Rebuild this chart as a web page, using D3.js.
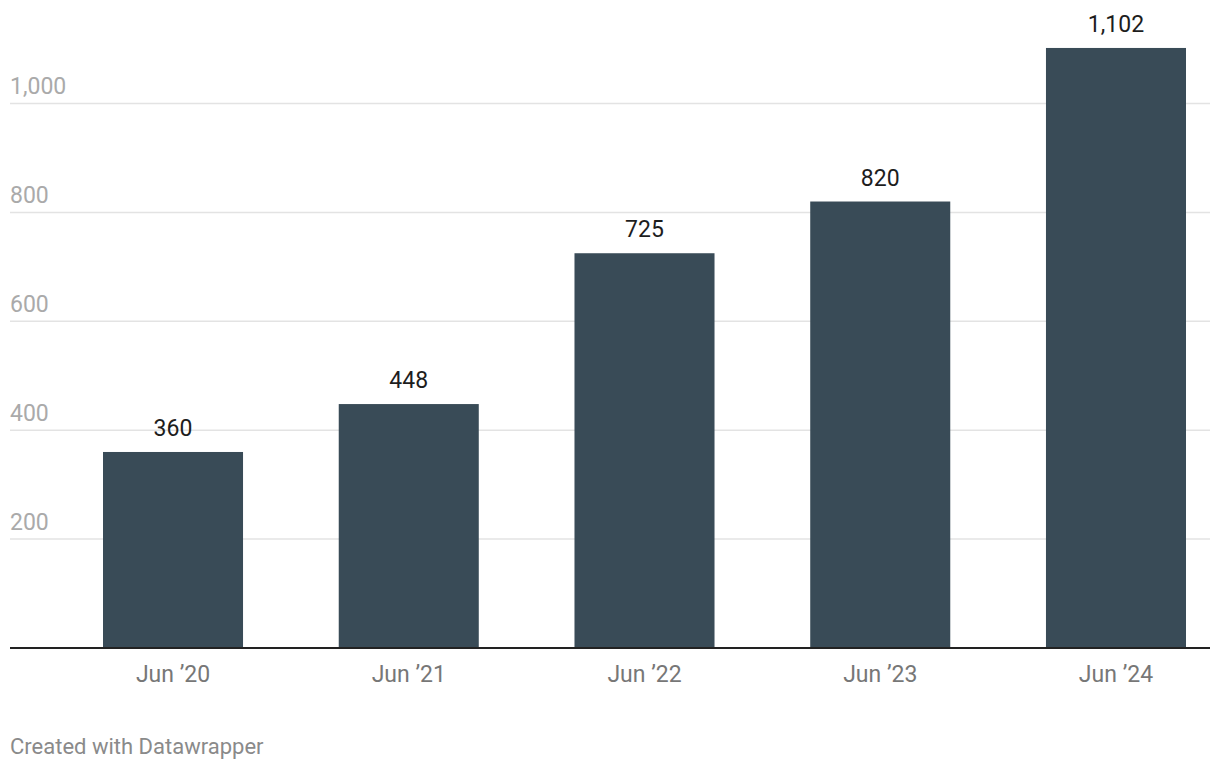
<!DOCTYPE html>
<html>
<head>
<meta charset="utf-8">
<script src="https://cdn.jsdelivr.net/npm/d3@7"></script>
<style>
  html, body { margin: 0; padding: 0; background: #fff; }
  svg { display: block; font-family: Roboto, "Noto Sans", sans-serif; }
</style>
</head>
<body>
<svg id="chart" width="1220" height="770"></svg>
<script>
const categories = ["Jun \u201920", "Jun \u201921", "Jun \u201922", "Jun \u201923", "Jun \u201924"];
const values = [360, 448, 725, 820, 1102];
const yTicks = [200, 400, 600, 800, 1000];

const svg = d3.select("#chart");
const x = d3.scaleBand().domain(categories).range([103, 1186]).paddingInner(0.406).paddingOuter(0);
const y = d3.scaleLinear().domain([0, 1000]).range([648, 103.5]);
const fmt = d3.format(",");

// gridlines
svg.append("g").selectAll("line").data(yTicks).join("line")
  .attr("x1", 10).attr("x2", 1210)
  .attr("y1", d => y(d)).attr("y2", d => y(d))
  .attr("stroke", "#e3e3e3").attr("stroke-width", 1.5);

// y labels
svg.append("g").selectAll("text").data(yTicks).join("text")
  .attr("x", 10).attr("y", d => y(d) - 9.5)
  .attr("fill", "#aaaaaa").attr("font-size", 23)
  .text(d => fmt(d));

// bars
svg.append("g").selectAll("rect").data(values).join("rect")
  .attr("x", (d, i) => x(categories[i]))
  .attr("width", x.bandwidth())
  .attr("y", d => y(d))
  .attr("height", d => y(0) - y(d))
  .attr("fill", "#394b57");

// value labels
svg.append("g").selectAll("text").data(values).join("text")
  .attr("x", (d, i) => x(categories[i]) + x.bandwidth() / 2)
  .attr("y", d => y(d) - 16)
  .attr("text-anchor", "middle")
  .attr("fill", "#1d1d1d").attr("font-size", 23)
  .text(d => fmt(d));

// baseline
svg.append("line").attr("x1", 10).attr("x2", 1210)
  .attr("y1", y(0)).attr("y2", y(0))
  .attr("stroke", "#222").attr("stroke-width", 2);

// x labels
svg.append("g").selectAll("text").data(categories).join("text")
  .attr("x", d => x(d) + x.bandwidth() / 2)
  .attr("y", 682)
  .attr("text-anchor", "middle")
  .attr("fill", "#777777").attr("font-size", 23)
  .text(d => d);

// footer
svg.append("text").attr("x", 10).attr("y", 754)
  .attr("fill", "#8a8a8a").attr("font-size", 22)
  .text("Created with Datawrapper");
</script>
</body>
</html>
